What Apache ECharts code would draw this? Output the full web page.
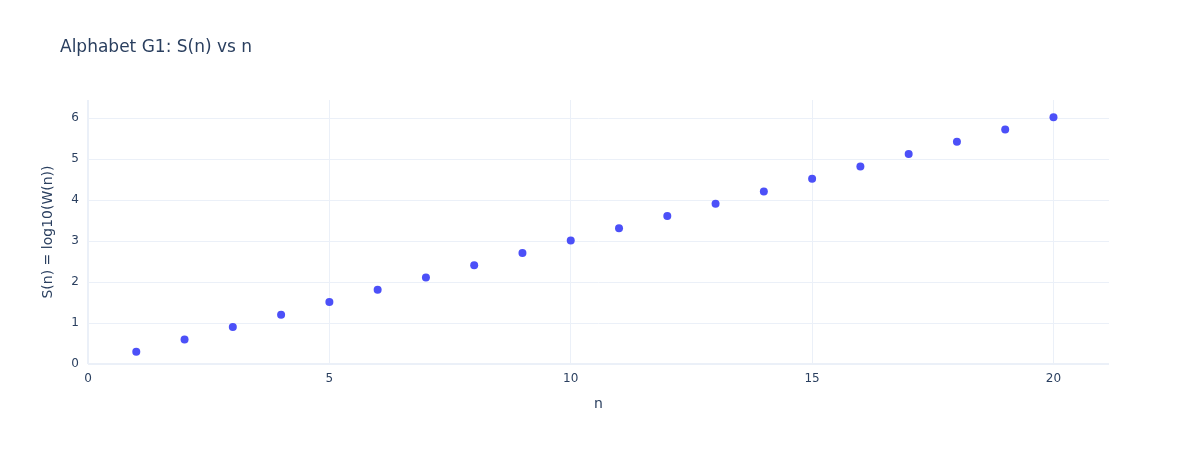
<!DOCTYPE html>
<html>
<head>
<meta charset="utf-8">
<script src="https://cdn.jsdelivr.net/npm/echarts@6/dist/echarts.min.js"></script>
<style>html,body{margin:0;padding:0;background:#fff;}#c{width:1188px;height:450px;}</style>
</head>
<body>
<div id="c"></div>
<script>
const nValues = [1,2,3,4,5,6,7,8,9,10,11,12,13,14,15,16,17,18,19,20];
const sValues = [0.30,0.60,0.90,1.20,1.51,1.81,2.11,2.41,2.71,3.01,3.31,3.61,3.91,4.21,4.52,4.82,5.12,5.42,5.72,6.02];
const titleText = 'Alphabet G1: S(n) vs n';
const xName = 'n';
const yName = 'S(n) = log10(W(n))';

const chart = echarts.init(document.getElementById('c'), null, {renderer:'canvas'});
const font = '"DejaVu Sans", Verdana, sans-serif';
const txt = '#2a3f5f';
const gridC = '#ebf0f8';
chart.setOption({
  animation:false,
  backgroundColor:'#fff',
  title:{text:titleText,left:55,top:34,textStyle:{fontFamily:font,fontSize:17,fontWeight:'normal',color:txt}},
  grid:{left:88,right:79,top:100,bottom:86,containLabel:false},
  xAxis:{type:'value',min:0,max:21.15,interval:5,name:xName,nameLocation:'middle',nameGap:33,
    nameTextStyle:{fontFamily:font,fontSize:14,color:txt},
    axisLine:{show:false},axisTick:{show:false},
    axisLabel:{fontFamily:font,fontSize:12,color:txt,margin:9,showMaxLabel:false},
    splitLine:{show:true,showMaxLine:false,lineStyle:{color:gridC,width:1}}},
  yAxis:{type:'value',min:0,max:6.44,interval:1,name:yName,nameLocation:'middle',nameGap:33,
    nameTextStyle:{fontFamily:font,fontSize:14,color:txt},
    axisLine:{show:false},axisTick:{show:false},
    axisLabel:{fontFamily:font,fontSize:12,color:txt,margin:9,showMaxLabel:false},
    splitLine:{show:true,showMaxLine:false,lineStyle:{color:gridC,width:1}}},
  series:[
    {type:'scatter',data:nValues.map((n,i)=>[n,sValues[i]]),symbolSize:8,itemStyle:{color:'#4c50f8',opacity:1}},
    {type:'line',data:[],markLine:{silent:true,symbol:'none',label:{show:false},
      lineStyle:{color:gridC,width:2,type:'solid'},data:[{xAxis:0},{yAxis:0}]}}
  ]
});
</script>
</body>
</html>
